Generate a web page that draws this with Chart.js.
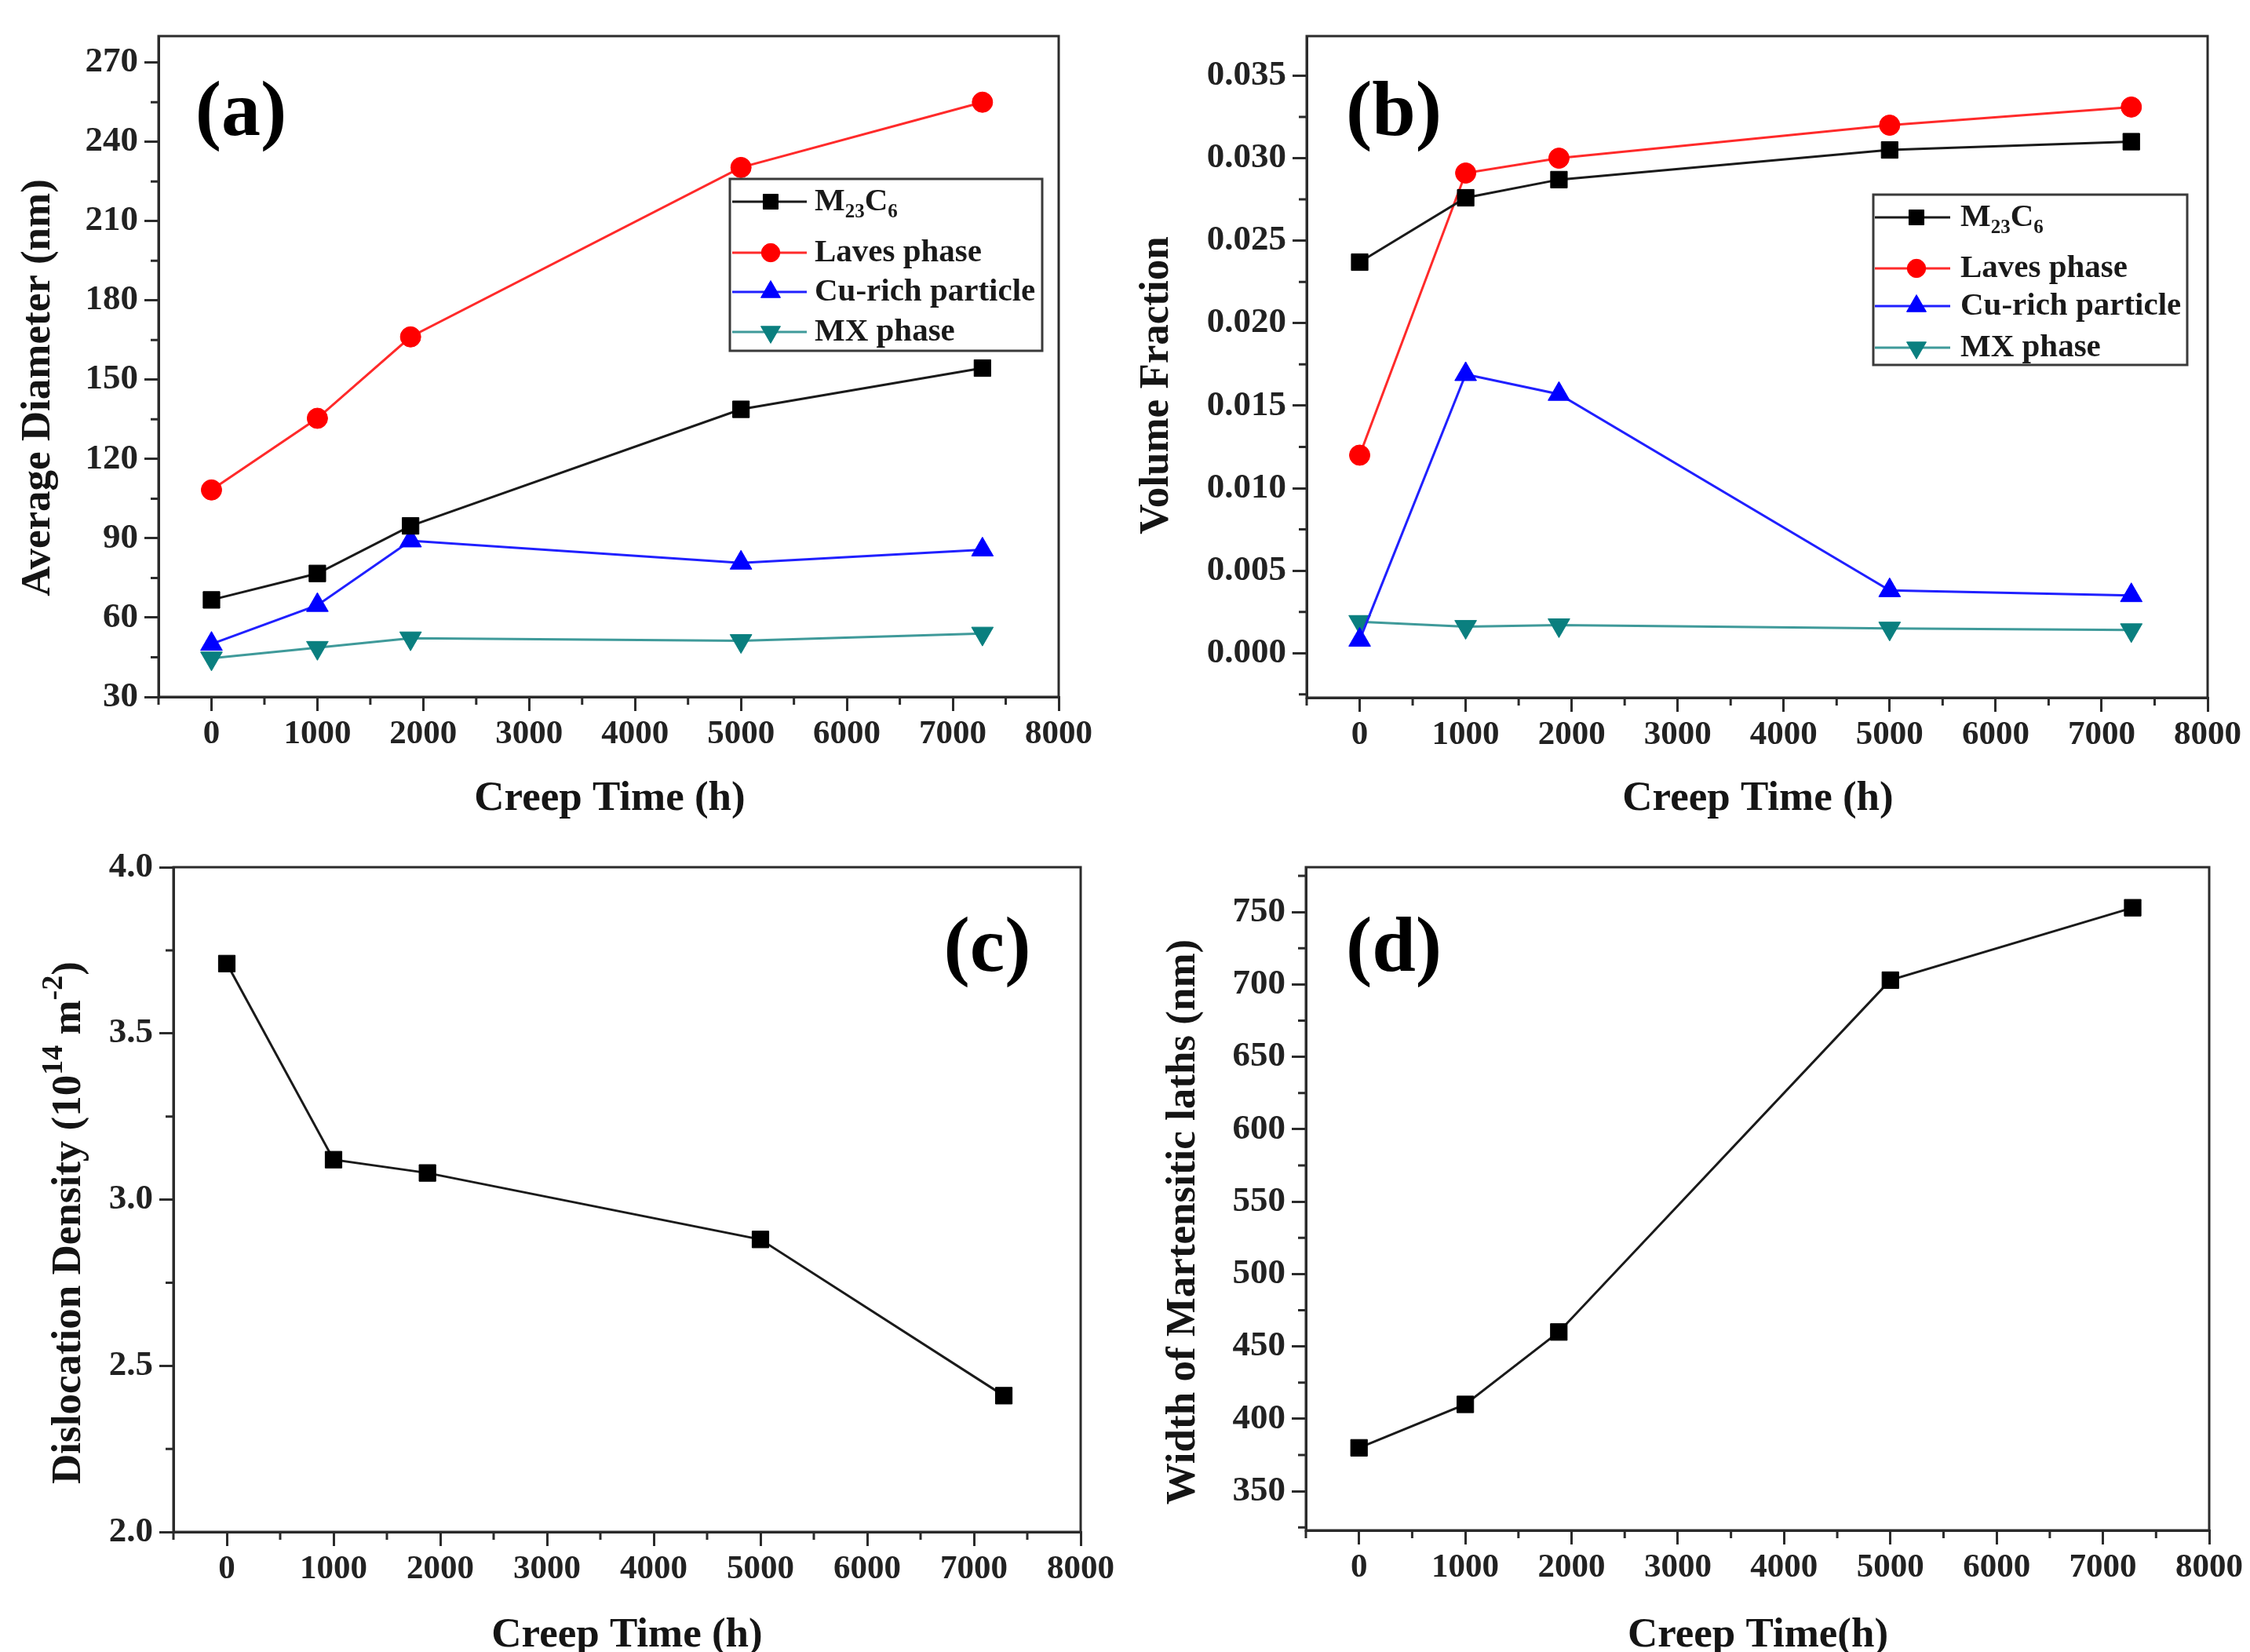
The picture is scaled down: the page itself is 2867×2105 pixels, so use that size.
<!DOCTYPE html>
<html>
<head>
<meta charset="utf-8">
<script src="https://cdn.jsdelivr.net/npm/chart.js@4/dist/chart.umd.min.js"></script>
<style>
html,body{margin:0;padding:0;background:#fff;}
#wrap{position:relative;width:2867px;height:2105px;overflow:hidden;background:#fff;}
canvas{position:absolute;}
</style>
</head>
<body>
<div id="wrap">
<canvas id="pa" width="1430" height="1060" style="left:0px;top:0px;width:1430px;height:1060px;"></canvas>
<canvas id="pb" width="1433" height="1060" style="left:1434px;top:0px;width:1433px;height:1060px;"></canvas>
<canvas id="pc" width="1430" height="1045" style="left:0px;top:1060px;width:1430px;height:1045px;"></canvas>
<canvas id="pd" width="1433" height="1045" style="left:1434px;top:1060px;width:1433px;height:1045px;"></canvas>
</div>
<script>
// ---------------- DATA ----------------
const creepTime = [0, 1000, 1880, 5000, 7280];
const seriesNames = ['M_{23}C_{6}', 'Laves phase', 'Cu-rich particle', 'MX phase'];

// (a) Average diameter (nm)
const diamM23C6 = [66.7, 76.7, 94.7, 138.8, 154.4];
const diamLaves = [108.3, 135.4, 166.2, 230.3, 255.0];
const diamCu    = [50.0, 64.7, 89.1, 80.7, 85.7];
const diamMX    = [44.6, 48.6, 52.2, 51.2, 54.0];

// (b) Volume fraction
const vfM23C6 = [0.0237, 0.0276, 0.0287, 0.0305, 0.0310];
const vfLaves = [0.0120, 0.0291, 0.0300, 0.0320, 0.0331];
const vfCu    = [0.0008, 0.0169, 0.0157, 0.0038, 0.0035];
const vfMX    = [0.0019, 0.0016, 0.0017, 0.0015, 0.0014];

// (c) Dislocation density (10^14 m^-2)
const dislocation = [3.71, 3.12, 3.08, 2.88, 2.41];

// (d) Width of martensitic laths (nm)
const lathWidth = [380, 410, 460, 703, 753];

// tick labels
const xTickValues = [0, 1000, 2000, 3000, 4000, 5000, 6000, 7000, 8000];
const yTicksA = [30, 60, 90, 120, 150, 180, 210, 240, 270];
const yTicksB = [0.000, 0.005, 0.010, 0.015, 0.020, 0.025, 0.030, 0.035];
const yTicksC = [2.0, 2.5, 3.0, 3.5, 4.0];
const yTicksD = [350, 400, 450, 500, 550, 600, 650, 700, 750];

// texts
const xTitleA = 'Creep Time (h)';
const xTitleB = 'Creep Time (h)';
const xTitleC = 'Creep Time (h)';
const xTitleD = 'Creep Time(h)';
const yTitleA = 'Average Diameter (nm)';
const yTitleB = 'Volume Fraction';
const yTitleC = 'Dislocation Density (10^{14} m^{-2})';
const yTitleD = 'Width of Martensitic laths (nm)';
const panelLabels = ['(a)', '(b)', '(c)', '(d)'];

// ---------------- STYLE ----------------
const FONT = "'Liberation Serif', 'Times New Roman', serif";
const AXIS_COLOR = '#2b2b2b';
const TEXT_COLOR = '#151515';
const seriesStyle = [
  {color: '#000000', line: '#1a1a1a', style: 'rect', rot: 0, r: 15},
  {color: '#ff0000', line: '#ff2a2a', style: 'circle', rot: 0, r: 13},
  {color: '#0000ff', line: '#2020ff', style: 'triangle', rot: 0, r: 16},
  {color: '#0a7f7f', line: '#3f9a9a', style: 'triangle', rot: 180, r: 16}
];

function minorsFrom(ticks, lo, hi) {
  const out = [];
  const step = ticks[1] - ticks[0];
  const cand = [ticks[0] - step / 2];
  for (let i = 0; i < ticks.length - 1; i++) cand.push((ticks[i] + ticks[i + 1]) / 2);
  cand.push(ticks[ticks.length - 1] + step / 2);
  cand.forEach(v => { if (v >= lo - 1e-9 && v <= hi + 1e-9) out.push(v); });
  return out;
}

function parseRich(s) {
  const parts = []; const re = /([_^])\{([^}]*)\}/g; let last = 0, m;
  while ((m = re.exec(s))) {
    if (m.index > last) parts.push({t: s.slice(last, m.index), k: ''});
    parts.push({t: m[2], k: m[1]});
    last = re.lastIndex;
  }
  if (last < s.length) parts.push({t: s.slice(last), k: ''});
  return parts;
}

function drawRich(ctx, s, x, y, size, o) {
  o = o || {};
  const parts = parseRich(s);
  const scr = o.scriptScale || 0.62;
  const fontFor = k => 'bold ' + (k ? Math.round(size * scr) : size) + 'px ' + FONT;
  let total = 0;
  parts.forEach(p => { ctx.font = fontFor(p.k); p.w = ctx.measureText(p.t).width; total += p.w; });
  ctx.save();
  ctx.translate(x, y);
  if (o.rotate) ctx.rotate(o.rotate);
  ctx.fillStyle = o.color || TEXT_COLOR;
  ctx.textBaseline = 'middle';
  ctx.textAlign = 'left';
  let cx = o.align === 'left' ? 0 : -total / 2;
  parts.forEach(p => {
    ctx.font = fontFor(p.k);
    const dy = p.k === '^' ? -size * 0.36 : (p.k === '_' ? size * 0.32 : 0);
    ctx.fillText(p.t, cx, dy);
    cx += p.w;
  });
  ctx.restore();
}

const decorPlugin = {
  id: 'decor',
  afterDraw(chart, args, opts) {
    const ctx = chart.ctx, a = chart.chartArea;
    const xs = chart.scales.x, ys = chart.scales.y;
    ctx.save();
    ctx.strokeStyle = AXIS_COLOR; ctx.lineWidth = 3;
    ctx.strokeRect(a.left, a.top, a.right - a.left, a.bottom - a.top);
    ctx.beginPath();
    (opts.minorX || []).forEach(v => { const p = xs.getPixelForValue(v); ctx.moveTo(p, a.bottom); ctx.lineTo(p, a.bottom + 10); });
    (opts.minorY || []).forEach(v => { const p = ys.getPixelForValue(v); ctx.moveTo(a.left, p); ctx.lineTo(a.left - 10, p); });
    ctx.stroke();
    ctx.restore();
    if (opts.xTitle) drawRich(ctx, opts.xTitle.text, opts.xTitle.x, opts.xTitle.y, opts.titleSize);
    if (opts.yTitle) drawRich(ctx, opts.yTitle.text, opts.yTitle.x, opts.yTitle.y, opts.titleSize, {rotate: -Math.PI / 2, scriptScale: 0.72});
    if (opts.panel) {
      ctx.save();
      ctx.font = 'bold 100px ' + FONT;
      ctx.fillStyle = '#000';
      ctx.textAlign = 'center'; ctx.textBaseline = 'middle';
      ctx.fillText(opts.panel.text, opts.panel.x, opts.panel.y);
      ctx.restore();
    }
    const L = opts.legend;
    if (L) {
      ctx.save();
      ctx.fillStyle = '#fff';
      ctx.fillRect(L.x, L.y, L.w, L.h);
      ctx.strokeStyle = '#3a3a3a'; ctx.lineWidth = 3;
      ctx.strokeRect(L.x, L.y, L.w, L.h);
      chart.data.datasets.forEach((d, i) => {
        const yy = L.rows[i];
        ctx.strokeStyle = d.borderColor; ctx.lineWidth = 3;
        ctx.beginPath(); ctx.moveTo(L.lineX0, yy); ctx.lineTo(L.lineX1, yy); ctx.stroke();
        ctx.fillStyle = d.pointBackgroundColor; ctx.strokeStyle = d.pointBorderColor; ctx.lineWidth = 1;
        Chart.helpers.drawPoint(ctx, {pointStyle: d.pointStyle, rotation: d.pointRotation, radius: d.pointRadius * 0.9, borderWidth: 1}, L.markX, yy);
        drawRich(ctx, d.label, L.textX, yy, L.size, {align: 'left', color: '#1a1a1a'});
      });
      ctx.restore();
    }
  }
};

function mkDataset(label, values, st) {
  return {
    label: label,
    data: creepTime.map((x, i) => ({x: x, y: values[i]})),
    borderColor: st.line,
    backgroundColor: st.color,
    pointBackgroundColor: st.color,
    pointBorderColor: st.color,
    pointStyle: st.style,
    pointRotation: st.rot,
    pointRadius: st.r,
    pointBorderWidth: 1,
    borderWidth: 3,
    tension: 0,
    fill: false,
    clip: false
  };
}

function axisCommon(size) {
  return {
    type: 'linear',
    grid: {display: true, drawOnChartArea: false, drawTicks: true, tickLength: 18, lineWidth: 3, color: AXIS_COLOR, tickColor: AXIS_COLOR, tickWidth: 3},
    border: {display: true, color: AXIS_COLOR, width: 3},
    ticks: {font: {family: FONT, size: size, weight: 'bold'}, color: '#222', autoSkip: false, maxRotation: 0, minRotation: 0}
  };
}

function makeChart(id, cfg) {
  const xAx = axisCommon(43);
  Object.assign(xAx, {
    min: -500, max: 8000,
    afterBuildTicks: s => { s.ticks = xTickValues.map(v => ({value: v})); },
    afterFit: s => { s.height = cfg.xAxisH; }
  });
  xAx.ticks.padding = 4;
  xAx.ticks.callback = v => String(v);
  const yAx = axisCommon(45);
  Object.assign(yAx, {
    min: cfg.yMin, max: cfg.yMax,
    afterBuildTicks: s => { s.ticks = cfg.yTicks.map(v => ({value: v})); },
    afterFit: s => { s.width = cfg.yAxisW; }
  });
  yAx.ticks.padding = 8;
  yAx.ticks.callback = cfg.yFmt;
  return new Chart(document.getElementById(id), {
    type: 'line',
    data: {datasets: cfg.datasets},
    options: {
      responsive: false, animation: false, devicePixelRatio: 1,
      layout: {padding: {left: 0, top: cfg.padTop, right: cfg.padRight, bottom: 0}},
      plugins: {legend: {display: false}, tooltip: {enabled: false}, decor: cfg.decor},
      scales: {x: xAx, y: yAx}
    },
    plugins: [decorPlugin]
  });
}

const minorX = minorsFrom(xTickValues, -500, 8000);

// (a)
makeChart('pa', {
  datasets: [
    mkDataset(seriesNames[0], diamM23C6, seriesStyle[0]),
    mkDataset(seriesNames[1], diamLaves, seriesStyle[1]),
    mkDataset(seriesNames[2], diamCu, seriesStyle[2]),
    mkDataset(seriesNames[3], diamMX, seriesStyle[3])
  ],
  yMin: 30, yMax: 280, yTicks: yTicksA, yFmt: v => String(v),
  yAxisW: 202, xAxisH: 172, padTop: 46, padRight: 81,
  decor: {
    minorX: minorX, minorY: minorsFrom(yTicksA, 30, 280), titleSize: 53,
    xTitle: {text: xTitleA, x: 777, y: 1018},
    yTitle: {text: yTitleA, x: 49, y: 494},
    panel: {text: panelLabels[0], x: 307, y: 146},
    legend: {x: 930, y: 228, w: 398, h: 219, rows: [257, 322, 372, 423], lineX0: 933, lineX1: 1028, markX: 982, textX: 1038, size: 41}
  }
});

// (b)
makeChart('pb', {
  datasets: [
    mkDataset(seriesNames[0], vfM23C6, seriesStyle[0]),
    mkDataset(seriesNames[1], vfLaves, seriesStyle[1]),
    mkDataset(seriesNames[2], vfCu, seriesStyle[2]),
    mkDataset(seriesNames[3], vfMX, seriesStyle[3])
  ],
  yMin: -0.0027, yMax: 0.0374, yTicks: yTicksB, yFmt: v => Number(v).toFixed(3),
  yAxisW: 231, xAxisH: 171, padTop: 46, padRight: 54,
  decor: {
    minorX: minorX, minorY: minorsFrom(yTicksB, -0.0027, 0.0374), titleSize: 53,
    xTitle: {text: xTitleB, x: 806, y: 1018},
    yTitle: {text: yTitleB, x: 40, y: 491},
    panel: {text: panelLabels[1], x: 342, y: 146},
    legend: {x: 953, y: 248, w: 400, h: 217, rows: [277, 342, 390, 443], lineX0: 955, lineX1: 1051, markX: 1008, textX: 1064, size: 41}
  }
});

// (c)
makeChart('pc', {
  datasets: [mkDataset('Dislocation Density', dislocation, seriesStyle[0])],
  yMin: 2.0, yMax: 4.0, yTicks: yTicksC, yFmt: v => Number(v).toFixed(1),
  yAxisW: 221, xAxisH: 153, padTop: 45, padRight: 53,
  decor: {
    minorX: minorX, minorY: minorsFrom(yTicksC, 2.0, 4.0), titleSize: 53,
    xTitle: {text: xTitleC, x: 799, y: 1024},
    yTitle: {text: yTitleC, x: 88, y: 498},
    panel: {text: panelLabels[2], x: 1258, y: 151}
  }
});

// (d)
makeChart('pd', {
  datasets: [mkDataset('Width of Martensitic laths', lathWidth, seriesStyle[0])],
  yMin: 323, yMax: 781, yTicks: yTicksD, yFmt: v => String(v),
  yAxisW: 230, xAxisH: 155, padTop: 45, padRight: 52,
  decor: {
    minorX: minorX, minorY: minorsFrom(yTicksD, 323, 781), titleSize: 53,
    xTitle: {text: xTitleD, x: 806, y: 1024},
    yTitle: {text: yTitleD, x: 74, y: 497},
    panel: {text: panelLabels[3], x: 342, y: 151}
  }
});
</script>
</body>
</html>
